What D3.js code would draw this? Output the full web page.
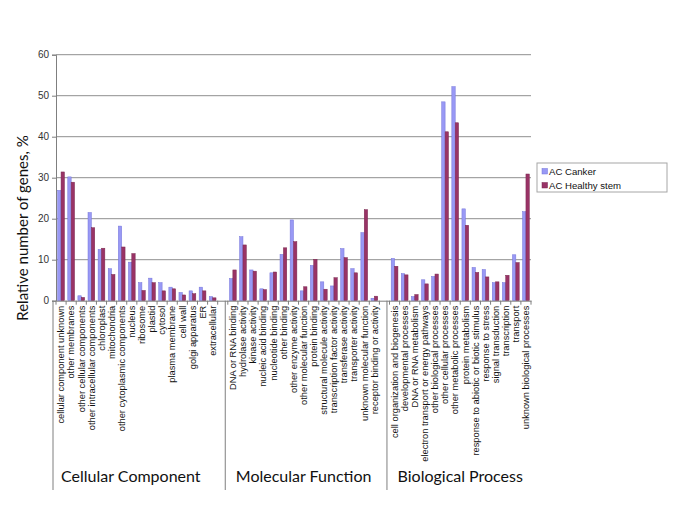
<!DOCTYPE html>
<html><head><meta charset="utf-8">
<script src="https://cdn.jsdelivr.net/npm/d3@7"></script>
<style>body{margin:0;background:#fff}svg{display:block}</style>
</head><body>
<svg id="c" width="685" height="513"></svg>
<script>
// ---- data ----
const groups = ["Cellular Component", "Molecular Function", "Biological Process"];
const ccCategories = ["cellular component unknown","other membranes","other cellular components","other intracellular components","chloroplast","mitochondria","other cytoplasmic components","nucleus","ribosome","plastid","cytosol","plasma membrane","cell wall","golgi apparatus","ER","extracellular"];
const mfCategories = ["DNA or RNA binding","hydrolase activity","kinase activity","nucleic acid binding","nucleotide binding","other binding","other enzyme activity","other molecular function","protein binding","structural molecule activity","transcription factor activity","transferase activity","transporter activity","unknown molecular function","receptor binding or activity"];
const bpCategories = ["cell organization and biogenesis","developmental processes","DNA or RNA metabolism","electron transport or energy pathways","other biological processes","other cellular processes","other metabolic processes","protein metabolism","response to abiotic or biotic stimulus","response to stress","signal transduction","transcription","transport","unknown biological processes"];
const seriesNames = ["AC Canker", "AC Healthy stem"];
const ccCanker  = [26.9,30.2,1.2,21.5,12.5,7.8,18.2,9.4,4.4,5.5,4.4,3.3,2.0,2.4,3.3,1.0];
const ccHealthy = [31.4,28.9,0.8,17.8,12.8,6.4,13.1,11.5,2.5,4.4,2.4,2.9,1.4,1.7,2.4,0.7];
const mfCanker  = [5.4,15.6,7.5,2.9,6.8,11.3,19.7,2.4,8.6,4.6,3.6,12.7,7.8,16.6,0.6];
const mfHealthy = [7.5,13.6,7.2,2.7,7.0,12.9,14.4,3.4,10.1,2.8,5.6,10.5,6.8,22.2,1.1];
const bpCanker  = [10.3,6.6,1.0,5.1,5.9,48.5,52.2,22.4,8.1,7.6,4.4,4.4,11.2,21.7];
const bpHealthy = [8.4,6.3,1.5,4.1,6.5,41.2,43.4,18.4,6.9,5.8,4.6,6.2,9.3,30.9];
const yTicks = [0,10,20,30,40,50,60];
const yTitle = "Relative number of genes, %";

// ---- build slots ----
const groupData = [
  {name: groups[0], cats: ccCategories, a: ccCanker, b: ccHealthy},
  {name: groups[1], cats: mfCategories, a: mfCanker, b: mfHealthy},
  {name: groups[2], cats: bpCategories, a: bpCanker, b: bpHealthy}
];
const slots = [];
groupData.forEach((g, gi) => {
  g.cats.forEach((c, i) => slots.push({key: gi + ":" + c, label: c, group: gi, vals: [g.a[i], g.b[i]]}));
  if (gi < groupData.length - 1) slots.push({key: "gap" + gi, label: "", group: -1, vals: null});
});

const svg = d3.select("#c");
const colors = ["#9999f5", "#993366"];
const strokes = ["#7373d9", "#7a284f"];

const x = d3.scaleBand().domain(slots.map(s => s.key)).range([56, 531]).padding(0);
const x1 = d3.scaleBand().domain(seriesNames).range([0, x.bandwidth()]).paddingInner(0).paddingOuter(0.5);
const y = d3.scaleLinear().domain([0, 60]).range([300.7, 54.7]);

// gridlines
svg.append("g").selectAll("line").data(yTicks.filter(t => t > 0)).join("line")
  .attr("x1", 56).attr("x2", 531).attr("y1", d => y(d)).attr("y2", d => y(d))
  .attr("stroke", "#8f8f8f").attr("stroke-width", 1);

// bars
const bg = svg.append("g");
slots.filter(s => s.vals).forEach(s => {
  s.vals.forEach((v, i) => {
    bg.append("rect")
      .attr("x", x(s.key) + x1(seriesNames[i]))
      .attr("y", y(v))
      .attr("width", x1.bandwidth())
      .attr("height", y(0) - y(v))
      .attr("fill", colors[i])
      .attr("stroke", strokes[i]).attr("stroke-width", 0.5);
  });
});

// y axis
const yAxis = d3.axisLeft(y).tickValues(yTicks).tickSize(4).tickPadding(3);
const ya = svg.append("g").attr("transform", "translate(56,0)").call(yAxis);
ya.select(".domain").attr("stroke", "#7f7f7f");
ya.selectAll(".tick line").attr("stroke", "#7f7f7f");
ya.selectAll("text").attr("font-family", "Arial, 'Liberation Sans', sans-serif").attr("font-size", 10).attr("fill", "#333");

// x axis
const xAxis = d3.axisBottom(x).tickSize(0).tickFormat("");
const xa = svg.append("g").attr("transform", `translate(0,${y(0)})`).call(xAxis);
xa.select(".domain").attr("stroke", "#7f7f7f");
xa.selectAll(".tick").remove();
// boundary ticks
const bounds = slots.map(s => x(s.key)).concat([x.range()[1]]);
svg.append("g").selectAll("line").data(bounds).join("line")
  .attr("x1", d => d).attr("x2", d => d).attr("y1", y(0)).attr("y2", y(0) + 4)
  .attr("stroke", "#7f7f7f");

// category labels
svg.append("g").selectAll("text").data(slots.filter(s => s.label)).join("text")
  .attr("transform", d => `translate(${x(d.key) + x.bandwidth() / 2},${y(0) + 5}) rotate(-90)`)
  .attr("dy", "0.35em")
  .attr("text-anchor", "end")
  .attr("font-family", "Arial, 'Liberation Sans', sans-serif")
  .attr("font-size", 9.3)
  .attr("fill", "#111")
  .text(d => d.label);

// group separators
const gapSlots = slots.filter(s => s.group === -1);
const sepX = [x.range()[0] - 3].concat(gapSlots.map(s => x(s.key) + x.bandwidth() / 2 + 2.5));
svg.append("g").selectAll("line").data(sepX).join("line")
  .attr("x1", d => d).attr("x2", d => d).attr("y1", y(0)).attr("y2", 490)
  .attr("stroke", "#7f7f7f");

// group labels
svg.append("g").selectAll("text").data(groupData).join("text")
  .attr("x", (g, gi) => {
    const ks = slots.filter(s => s.group === gi);
    return (x(ks[0].key) + x(ks[ks.length - 1].key) + x.bandwidth()) / 2 - (gi === 0 ? 6 : 0);
  })
  .attr("y", 482)
  .attr("text-anchor", "middle")
  .attr("font-family", "Lato, 'Open Sans', sans-serif")
  .attr("font-size", 16)
  .attr("fill", "#111")
  .text(g => g.name);

// y title
svg.append("text")
  .attr("transform", "translate(28,228) rotate(-90)")
  .attr("text-anchor", "middle")
  .attr("font-family", "Lato, 'Open Sans', sans-serif")
  .attr("font-size", 15)
  .attr("fill", "#111")
  .text(yTitle);

// legend
const lg = svg.append("g").attr("transform", "translate(537,163)");
lg.append("rect").attr("width", 130).attr("height", 29).attr("fill", "#fff").attr("stroke", "#a6a6a6");
seriesNames.forEach((n, i) => {
  lg.append("rect").attr("x", 5).attr("y", 5.5 + i * 14).attr("width", 5.5).attr("height", 5.5)
    .attr("fill", colors[i]).attr("stroke", strokes[i]).attr("stroke-width", 0.5);
  lg.append("text").attr("x", 12).attr("y", 11.5 + i * 14)
    .attr("font-family", "Arial, 'Liberation Sans', sans-serif").attr("font-size", 9.6).attr("fill", "#111")
    .text(n);
});
</script>
</body></html>
